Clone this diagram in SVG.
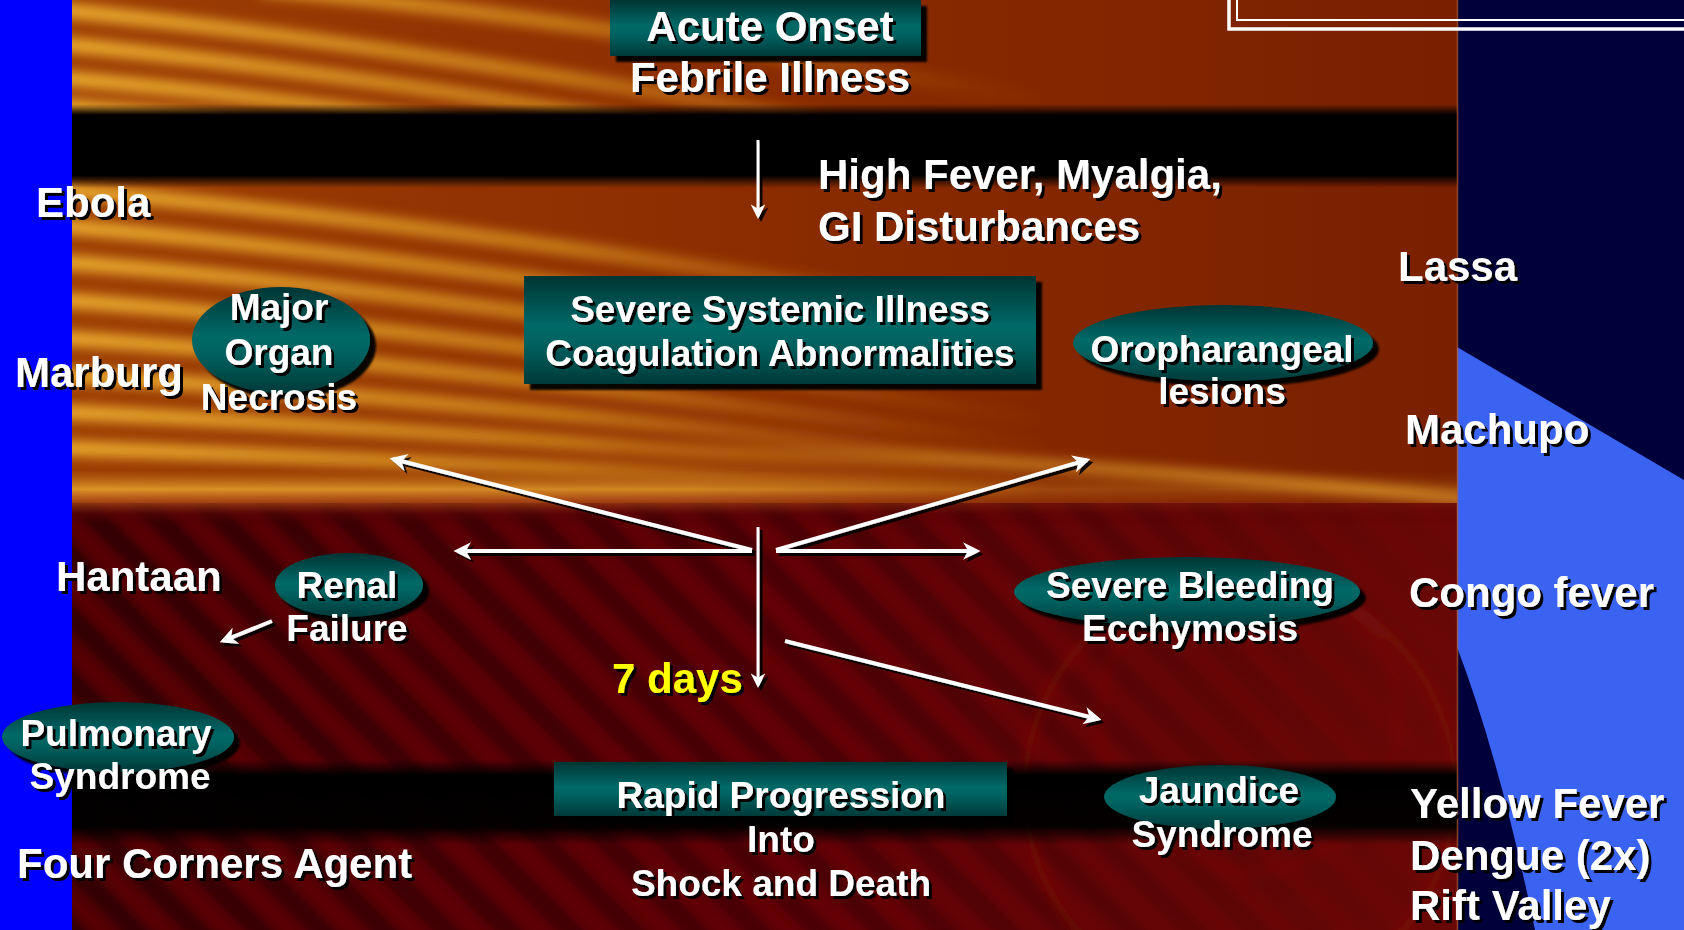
<svg xmlns="http://www.w3.org/2000/svg" width="1684" height="930" viewBox="0 0 1684 930">
<style>
.t{font-family:"Liberation Sans",Arial,sans-serif;font-weight:bold;fill:#ffffff;filter:url(#ts);}
.l{font-size:42px;}
.n{font-size:37px;text-anchor:middle;}
.y{fill:#ffff00;}
.box{fill:url(#tealV);filter:url(#bs);}
.ell{fill:url(#tealV);filter:url(#bs);}
.ar{stroke:#ffffff;stroke-width:4;fill:none;marker-end:url(#ah);}
.ar3{stroke:#ffffff;stroke-width:3;fill:none;marker-end:url(#ah3);}
.st1{fill:none;stroke:url(#streakFade);stroke-width:15;}
</style>
<defs>
<filter id="ts" x="-10%" y="-20%" width="130%" height="150%"><feDropShadow dx="3" dy="3" stdDeviation="0.3" flood-color="#000" flood-opacity="1"/></filter>
<filter id="bs" x="-10%" y="-10%" width="130%" height="140%"><feDropShadow dx="6" dy="6" stdDeviation="1" flood-color="#000" flood-opacity="0.95"/></filter>
<filter id="as" x="-10%" y="-20%" width="130%" height="150%"><feDropShadow dx="3" dy="3" stdDeviation="0.6" flood-color="#000" flood-opacity="0.9"/></filter>
<filter id="blur" filterUnits="userSpaceOnUse" x="0" y="-50" width="1684" height="1030"><feGaussianBlur stdDeviation="6"/></filter>
<filter id="blur3" filterUnits="userSpaceOnUse" x="0" y="0" width="1684" height="1030"><feGaussianBlur stdDeviation="5"/></filter>
<linearGradient id="tealV" x1="0" y1="0" x2="0" y2="1">
<stop offset="0" stop-color="#003434"/>
<stop offset="0.45" stop-color="#006866"/>
<stop offset="0.6" stop-color="#006462"/>
<stop offset="1" stop-color="#003a3a"/>
</linearGradient>
<linearGradient id="bg1" x1="72" y1="0" x2="1457" y2="0" gradientUnits="userSpaceOnUse">
<stop offset="0" stop-color="#9c3e04"/>
<stop offset="0.5" stop-color="#8a2c00"/>
<stop offset="1" stop-color="#7a2000"/>
</linearGradient>
<linearGradient id="bg3" x1="72" y1="0" x2="1457" y2="0" gradientUnits="userSpaceOnUse">
<stop offset="0" stop-color="#4a0004"/>
<stop offset="0.5" stop-color="#5c0006"/>
<stop offset="1" stop-color="#6a0806"/>
</linearGradient>
<linearGradient id="streakFade" x1="72" y1="0" x2="1050" y2="0" gradientUnits="userSpaceOnUse">
<stop offset="0" stop-color="#f0b030" stop-opacity="0.95"/>
<stop offset="0.5" stop-color="#e09a24" stop-opacity="0.7"/>
<stop offset="1" stop-color="#c87010" stop-opacity="0"/>
</linearGradient>
<linearGradient id="streakR" x1="650" y1="0" x2="1460" y2="0" gradientUnits="userSpaceOnUse">
<stop offset="0" stop-color="#e4a02c" stop-opacity="0"/>
<stop offset="0.35" stop-color="#e4a02c" stop-opacity="0.55"/>
<stop offset="1" stop-color="#eaa830" stop-opacity="0.75"/>
</linearGradient>
<linearGradient id="band1" x1="0" y1="104" x2="0" y2="188" gradientUnits="userSpaceOnUse">
<stop offset="0" stop-color="#000" stop-opacity="0"/>
<stop offset="0.13" stop-color="#000" stop-opacity="1"/>
<stop offset="0.85" stop-color="#000" stop-opacity="1"/>
<stop offset="1" stop-color="#000" stop-opacity="0"/>
</linearGradient>
<linearGradient id="band2" x1="0" y1="760" x2="0" y2="845" gradientUnits="userSpaceOnUse">
<stop offset="0" stop-color="#000" stop-opacity="0"/>
<stop offset="0.18" stop-color="#000" stop-opacity="1"/>
<stop offset="0.78" stop-color="#000" stop-opacity="0.95"/>
<stop offset="1" stop-color="#000" stop-opacity="0"/>
</linearGradient>
<linearGradient id="trans" x1="0" y1="470" x2="0" y2="525" gradientUnits="userSpaceOnUse">
<stop offset="0" stop-color="#c87a1c" stop-opacity="0"/>
<stop offset="0.35" stop-color="#e09a2a" stop-opacity="0.95"/>
<stop offset="0.55" stop-color="#b0501a" stop-opacity="0.85"/>
<stop offset="0.8" stop-color="#5a0606" stop-opacity="0.6"/>
<stop offset="1" stop-color="#4a0004" stop-opacity="0"/>
</linearGradient>
<linearGradient id="transFade" x1="72" y1="0" x2="1457" y2="0" gradientUnits="userSpaceOnUse">
<stop offset="0" stop-color="#fff" stop-opacity="1"/>
<stop offset="0.45" stop-color="#fff" stop-opacity="0.85"/>
<stop offset="0.7" stop-color="#fff" stop-opacity="0.3"/>
<stop offset="1" stop-color="#fff" stop-opacity="0.2"/>
</linearGradient>
<mask id="transMask"><rect x="72" y="460" width="1385" height="80" fill="url(#transFade)"/></mask>
<linearGradient id="fadeR" x1="72" y1="0" x2="1457" y2="0" gradientUnits="userSpaceOnUse">
<stop offset="0" stop-color="#fff" stop-opacity="1"/>
<stop offset="0.6" stop-color="#fff" stop-opacity="0.6"/>
<stop offset="1" stop-color="#fff" stop-opacity="0.05"/>
</linearGradient>
<mask id="stripeMask"><rect x="60" y="490" width="1410" height="450" fill="url(#fadeR)"/></mask>
<pattern id="stripes" width="44" height="44" patternUnits="userSpaceOnUse" patternTransform="rotate(-45)">
<rect x="0" y="0" width="20" height="44" fill="#000" fill-opacity="0.32"/>
<rect x="26" y="0" width="10" height="44" fill="#8a1010" fill-opacity="0.25"/>
</pattern>
<clipPath id="c1"><rect x="72" y="0" width="1385" height="125"/></clipPath>
<clipPath id="c2"><rect x="72" y="165" width="1385" height="342"/></clipPath>
<clipPath id="c3"><rect x="72" y="503" width="1385" height="427"/></clipPath>
<marker id="ah" viewBox="0 0 10 10" refX="8" refY="5" markerWidth="4.4" markerHeight="4.4" orient="auto" markerUnits="strokeWidth">
<path d="M0,0 L10,5 L0,10 L3,5 z" fill="#ffffff"/>
</marker>
<marker id="ah3" viewBox="0 0 10 10" refX="8" refY="5" markerWidth="4.8" markerHeight="4.8" orient="auto" markerUnits="strokeWidth">
<path d="M0,0 L10,5 L0,10 L3,5 z" fill="#ffffff"/>
</marker>
</defs>

<!-- background -->
<g id="background">
<rect x="0" y="0" width="1684" height="930" fill="#5c0006"/>
<rect x="72" y="0" width="1385" height="507" fill="url(#bg1)"/>
<g clip-path="url(#c1)">
<g filter="url(#blur)">
<path class="st1" d="M60,10 Q420,45 1100,170"/>
<path class="st1" d="M60,44 Q420,78 1100,200"/>
<path class="st1" d="M60,78 Q400,106 1050,215"/>
<path class="st1" d="M60,106 Q380,128 1000,225"/>
<path class="st1" d="M260,-12 Q600,20 1100,110"/>
</g>
</g>
<g clip-path="url(#c2)">
<g filter="url(#blur)">
<path class="st1" d="M60,190 Q420,218 1100,330"/>
<path class="st1" d="M60,226 Q420,255 1100,365"/>
<path class="st1" d="M60,262 Q420,288 1080,395"/>
<path class="st1" d="M60,300 Q420,325 1080,425"/>
<path class="st1" d="M60,338 Q420,360 1080,450"/>
<path class="st1" d="M60,375 Q420,395 1100,470"/>
<path class="st1" d="M60,412 Q440,428 1100,485"/>
<path class="st1" d="M60,448 Q440,460 1100,495"/>
<path d="M650,445 Q1100,462 1470,500" fill="none" stroke="url(#streakR)" stroke-width="13"/>
</g>
</g>
<rect x="72" y="104" width="1385" height="84" fill="url(#band1)"/>
<g clip-path="url(#c3)">
<rect x="72" y="503" width="1385" height="427" fill="url(#bg3)"/>
<g filter="url(#blur3)">
<rect x="60" y="490" width="1410" height="450" fill="url(#stripes)" mask="url(#stripeMask)"/>
</g>
<g filter="url(#blur)">
<circle cx="1240" cy="790" r="215" fill="none" stroke="#8c1a10" stroke-width="8" stroke-opacity="0.45"/>
<circle cx="1250" cy="720" r="150" fill="none" stroke="#8c1a10" stroke-width="6" stroke-opacity="0.35"/>
</g>
</g>
<rect x="72" y="470" width="1385" height="55" fill="url(#trans)" mask="url(#transMask)"/>
<rect x="72" y="760" width="1385" height="85" fill="url(#band2)"/>
<rect x="0" y="0" width="72" height="930" fill="#0000ff"/>
<rect x="1457" y="0" width="227" height="930" fill="#00003a"/>
<path d="M1457,347 L1684,480 L1684,930 L1535,930 Q1500,760 1457,647 Z" fill="#3a63f2"/>
<line x1="1457.5" y1="0" x2="1457.5" y2="930" stroke="#c0602a" stroke-width="1.5" stroke-opacity="0.7"/>
<path d="M1229,0 L1229,29 L1684,29" fill="none" stroke="#ffffff" stroke-width="3.5"/>
<path d="M1237,0 L1237,20 L1684,20" fill="none" stroke="#ffffff" stroke-width="2"/>
</g>

<!-- connectors -->
<g id="connectors" filter="url(#as)">
<line class="ar3" x1="758" y1="140" x2="758" y2="216"/>
<line class="ar3" x1="758" y1="527" x2="758" y2="685"/>
<line class="ar" x1="752" y1="550" x2="393" y2="459"/>
<line class="ar" x1="752" y1="551" x2="457" y2="551"/>
<line class="ar" x1="776" y1="550" x2="1087" y2="460"/>
<line class="ar" x1="776" y1="551" x2="977" y2="551"/>
<line class="ar" x1="785" y1="641" x2="1098" y2="719"/>
<line class="ar" x1="272" y1="621" x2="223" y2="641"/>
</g>

<!-- nodes -->
<g id="acute-onset">
<rect class="box" x="610" y="0" width="311" height="56"/>
<text class="t n" x="770" y="41" style="font-size:42px">Acute Onset</text>
<text class="t n" x="770" y="92" style="font-size:42px">Febrile Illness</text>
</g>
<g id="high-fever">
<text class="t l" x="818" y="189">High Fever, Myalgia,</text>
<text class="t l" x="818" y="241">GI Disturbances</text>
</g>
<g id="severe-systemic">
<rect class="box" x="524" y="276" width="512" height="108"/>
<text class="t n" x="780" y="322">Severe Systemic Illness</text>
<text class="t n" x="780" y="366">Coagulation Abnormalities</text>
</g>
<g id="major-organ">
<ellipse class="ell" cx="281" cy="340" rx="89" ry="53"/>
<text class="t n" x="279" y="320">Major</text>
<text class="t n" x="279" y="365">Organ</text>
<text class="t n" x="279" y="410">Necrosis</text>
</g>
<g id="oropharangeal">
<ellipse class="ell" cx="1223" cy="343" rx="150" ry="38"/>
<text class="t n" x="1222" y="362">Oropharangeal</text>
<text class="t n" x="1222" y="404">lesions</text>
</g>
<g id="renal">
<ellipse class="ell" cx="349" cy="585" rx="74" ry="32"/>
<text class="t n" x="347" y="598">Renal</text>
<text class="t n" x="347" y="641">Failure</text>
</g>
<g id="pulmonary">
<ellipse class="ell" cx="118" cy="737" rx="116" ry="35"/>
<text class="t n" x="116" y="746">Pulmonary</text>
<text class="t n" x="120" y="789">Syndrome</text>
</g>
<g id="severe-bleeding">
<ellipse class="ell" cx="1187" cy="592" rx="173" ry="35"/>
<text class="t n" x="1190" y="598">Severe Bleeding</text>
<text class="t n" x="1190" y="641">Ecchymosis</text>
</g>
<g id="rapid-progression">
<rect class="box" x="554" y="762" width="453" height="54"/>
<text class="t n" x="781" y="808">Rapid Progression</text>
<text class="t n" x="781" y="852">Into</text>
<text class="t n" x="781" y="896">Shock and Death</text>
</g>
<g id="jaundice">
<ellipse class="ell" cx="1220" cy="797" rx="116" ry="32"/>
<text class="t n" x="1219" y="803">Jaundice</text>
<text class="t n" x="1222" y="847">Syndrome</text>
</g>
<g id="seven-days">
<text class="t l y" x="612" y="693">7 days</text>
</g>

<!-- virus labels -->
<g id="labels">
<text class="t l" x="36" y="217">Ebola</text>
<text class="t l" x="15" y="387">Marburg</text>
<text class="t l" x="56" y="591">Hantaan</text>
<text class="t l" x="17" y="878">Four Corners Agent</text>
<text class="t l" x="1398" y="281">Lassa</text>
<text class="t l" x="1405" y="444">Machupo</text>
<text class="t l" x="1409" y="607">Congo fever</text>
<text class="t l" x="1410" y="818">Yellow Fever</text>
<text class="t l" x="1410" y="870">Dengue (2x)</text>
<text class="t l" x="1410" y="920">Rift Valley</text>
</g>
</svg>
